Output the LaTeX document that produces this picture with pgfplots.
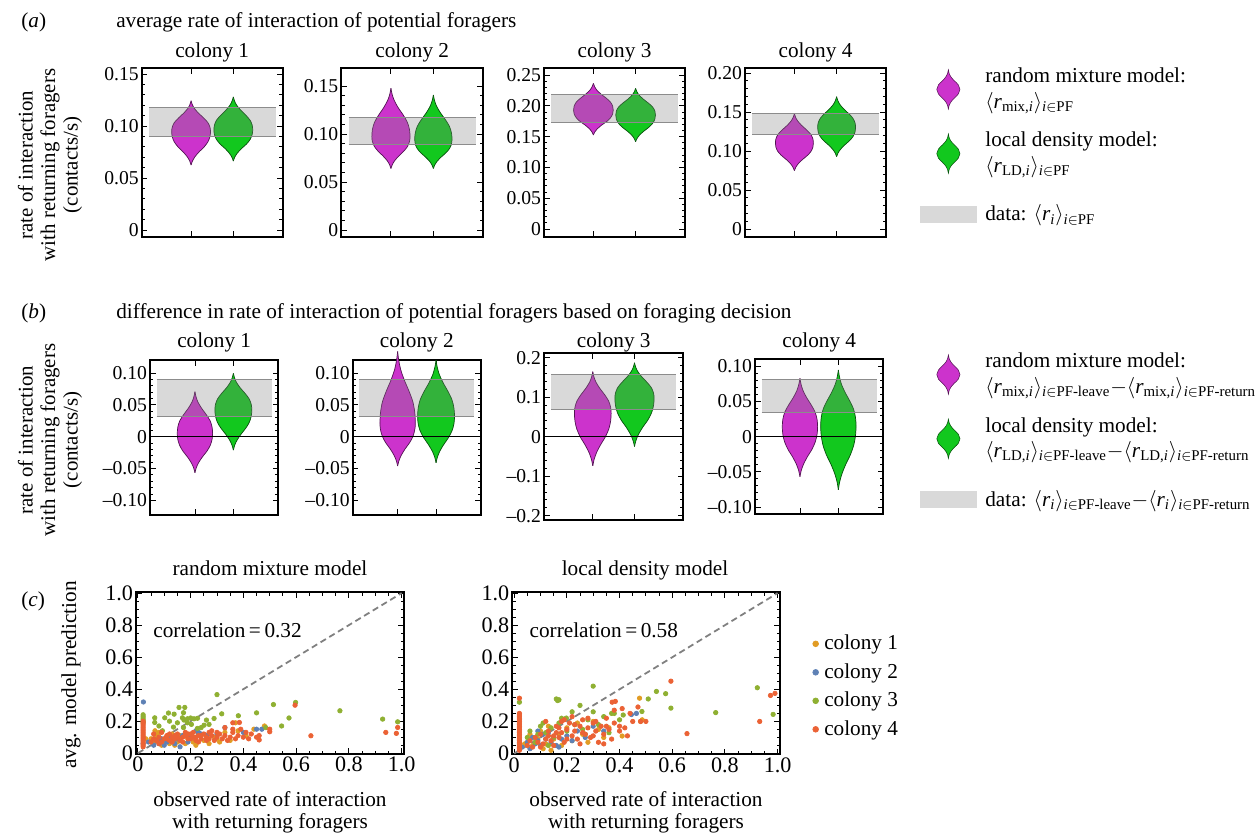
\documentclass[border=0pt]{standalone}
\usepackage{fontspec}
\setmainfont{Liberation Serif}
\usepackage{pgfplots}
\usepackage{pgfplotstable}
\pgfplotsset{compat=1.18}
\usepgfplotslibrary{fillbetween}

\definecolor{vm}{RGB}{204,51,204}
\definecolor{vg}{RGB}{18,200,30}
\definecolor{cA}{rgb}{0.880722,0.611041,0.142051}
\definecolor{cB}{rgb}{0.368417,0.506779,0.709798}
\definecolor{cC}{rgb}{0.560181,0.691569,0.194885}
\definecolor{cD}{rgb}{0.922526,0.385626,0.209179}

\def\px{0.56pt}
\newcommand{\fs}{\fontsize{11.9}{14.2}\selectfont}
\newcommand{\ft}{\fontsize{11}{13}\selectfont}
\newcommand{\fc}{\fontsize{12.4}{14}\selectfont}
\newcommand{\fl}{\fontsize{11.7}{12.6}\selectfont}

% violin data: y = value, w = half width of the violin (x units)
\pgfplotstableread{
y w
0.0625 0
0.0663 0.032
0.0705 0.092
0.0753 0.193
0.0801 0.313
0.0849 0.400
0.0897 0.446
0.0945 0.460
0.0990 0.446
0.1034 0.396
0.1079 0.294
0.1124 0.175
0.1169 0.078
0.1207 0.028
0.1243 0
}\aIM
\pgfplotstableread{
y w
0.0663 0
0.0699 0.032
0.0738 0.092
0.0783 0.193
0.0827 0.313
0.0872 0.400
0.0917 0.446
0.0962 0.460
0.1010 0.446
0.1057 0.396
0.1105 0.294
0.1153 0.175
0.1201 0.078
0.1242 0.028
0.1280 0
}\aIG
\pgfplotstableread{
y w
0.0640 0
0.0680 0.032
0.0723 0.090
0.0772 0.189
0.0822 0.306
0.0871 0.392
0.0921 0.437
0.0970 0.450
0.1046 0.437
0.1122 0.387
0.1198 0.288
0.1274 0.171
0.1350 0.077
0.1415 0.027
0.1476 0
}\aIIM
\pgfplotstableread{
y w
0.0640 0
0.0676 0.031
0.0715 0.088
0.0760 0.185
0.0805 0.299
0.0850 0.383
0.0895 0.427
0.0940 0.440
0.1010 0.427
0.1080 0.378
0.1150 0.282
0.1220 0.167
0.1290 0.075
0.1350 0.026
0.1406 0
}\aIIG
\pgfplotstableread{
y w
0.1526 0
0.1575 0.033
0.1627 0.094
0.1688 0.197
0.1748 0.320
0.1809 0.409
0.1869 0.456
0.1930 0.470
0.1995 0.456
0.2061 0.404
0.2126 0.301
0.2191 0.179
0.2256 0.080
0.2313 0.028
0.2365 0
}\aIIIM
\pgfplotstableread{
y w
0.1417 0
0.1469 0.033
0.1525 0.094
0.1590 0.197
0.1655 0.320
0.1720 0.409
0.1785 0.456
0.1850 0.470
0.1915 0.456
0.1980 0.404
0.2045 0.301
0.2110 0.179
0.2176 0.080
0.2232 0.028
0.2284 0
}\aIIIG
\pgfplotstableread{
y w
0.0748 0
0.0790 0.032
0.0836 0.090
0.0889 0.189
0.0942 0.306
0.0994 0.392
0.1047 0.437
0.1100 0.450
0.1157 0.437
0.1214 0.387
0.1271 0.288
0.1328 0.171
0.1385 0.077
0.1434 0.027
0.1480 0
}\aIVM
\pgfplotstableread{
y w
0.0927 0
0.0972 0.032
0.1020 0.090
0.1076 0.189
0.1132 0.306
0.1188 0.392
0.1244 0.437
0.1300 0.450
0.1359 0.437
0.1419 0.387
0.1478 0.288
0.1538 0.171
0.1597 0.077
0.1649 0.027
0.1696 0
}\aIVG
\pgfplotstableread{
y w
-0.0566 0
-0.0492 0.032
-0.0411 0.092
-0.0318 0.193
-0.0226 0.313
-0.0133 0.400
-0.0040 0.446
0.0053 0.460
0.0151 0.446
0.0250 0.396
0.0348 0.294
0.0446 0.175
0.0544 0.078
0.0629 0.028
0.0708 0
}\bIM
\pgfplotstableread{
y w
-0.0210 0
-0.0134 0.034
-0.0053 0.096
0.0042 0.202
0.0137 0.326
0.0231 0.418
0.0326 0.466
0.0420 0.480
0.0507 0.466
0.0593 0.413
0.0680 0.307
0.0766 0.182
0.0853 0.082
0.0928 0.029
0.0997 0
}\bIG
\pgfplotstableread{
y w
-0.0460 0
-0.0380 0.032
-0.0293 0.092
-0.0192 0.193
-0.0092 0.313
0.0009 0.400
0.0110 0.446
0.0210 0.460
0.0380 0.446
0.0549 0.396
0.0719 0.294
0.0888 0.175
0.1058 0.078
0.1204 0.028
0.1340 0
}\bIIM
\pgfplotstableread{
y w
-0.0410 0
-0.0323 0.034
-0.0229 0.096
-0.0120 0.202
-0.0011 0.326
0.0098 0.418
0.0206 0.466
0.0315 0.480
0.0449 0.466
0.0582 0.413
0.0716 0.307
0.0850 0.182
0.0983 0.082
0.1099 0.029
0.1206 0
}\bIIG
\pgfplotstableread{
y w
-0.0740 0
-0.0580 0.031
-0.0408 0.088
-0.0208 0.185
-0.0009 0.299
0.0191 0.383
0.0391 0.427
0.0590 0.440
0.0748 0.427
0.0907 0.378
0.1065 0.282
0.1224 0.167
0.1382 0.075
0.1519 0.026
0.1646 0
}\bIIIM
\pgfplotstableread{
y w
-0.0250 0
-0.0104 0.033
0.0055 0.094
0.0238 0.197
0.0421 0.320
0.0604 0.409
0.0787 0.456
0.0970 0.470
0.1105 0.456
0.1240 0.404
0.1375 0.301
0.1510 0.179
0.1645 0.080
0.1762 0.028
0.1870 0
}\bIIIG
\pgfplotstableread{
y w
-0.0570 0
-0.0485 0.032
-0.0393 0.092
-0.0286 0.193
-0.0180 0.313
-0.0073 0.400
0.0034 0.446
0.0140 0.460
0.0244 0.446
0.0347 0.396
0.0451 0.294
0.0554 0.175
0.0658 0.078
0.0747 0.028
0.0830 0
}\bIVM
\pgfplotstableread{
y w
-0.0757 0
-0.0648 0.032
-0.0530 0.092
-0.0393 0.193
-0.0257 0.313
-0.0121 0.400
0.0016 0.446
0.0152 0.460
0.0271 0.446
0.0391 0.396
0.0510 0.294
0.0630 0.175
0.0749 0.078
0.0853 0.028
0.0948 0
}\bIVG

\newcommand{\violin}[4]{%
 \addplot[smooth, draw=#3!40!black, line width=0.4pt, name path=#4R, forget plot] table[x expr=#2+\thisrow{w}, y=y]{#1};
 \addplot[smooth, draw=#3!40!black, line width=0.4pt, name path=#4L, forget plot] table[x expr=#2-\thisrow{w}, y=y]{#1};
 \addplot[fill=#3, draw=none, forget plot] fill between[of=#4R and #4L];
}
\newcommand{\band}[2]{%
 \addplot[draw=none, fill=black!50, fill opacity=0.3, forget plot] coordinates {(0,#1) (3,#1) (3,#2) (0,#2)};
 \addplot[black!45, line width=0.55pt, forget plot] coordinates {(0,#1) (3,#1)};
 \addplot[black!45, line width=0.55pt, forget plot] coordinates {(0,#2) (3,#2)};
}
\newcommand{\zeroline}{\addplot[black, line width=0.5pt, forget plot] coordinates {(-0.17,0) (3.17,0)};}

\pgfplotsset{
 vio/.style={scale only axis, anchor=north west, clip=false,
  xmin=-0.17, xmax=3.17, xtick={1,2}, xticklabels={},
  axis line style={line width=1pt},
  tick style={black, line width=0.5pt},
  major tick length=3.2pt, minor tick length=1.8pt,
  tick align=inside, minor y tick num=4,
  yticklabel style={font=\ft, inner sep=1.5pt}},
 sca/.style={scale only axis, anchor=north west,
  xmin=-0.007, xmax=1.009, ymin=-0.005, ymax=1.005,
  xtick={0,0.2,0.4,0.6,0.8,1}, xticklabels={0,0.2,0.4,0.6,0.8,1.0},
  ytick={0,0.2,0.4,0.6,0.8,1}, yticklabels={0,0.2,0.4,0.6,0.8,1.0},
  minor tick num=3,
  axis line style={line width=1pt},
  tick style={black, line width=0.5pt},
  major tick length=3.2pt, minor tick length=1.8pt,
  tick align=inside,
  ticklabel style={font=\fc, inner sep=1.5pt}},
 dots/.style={only marks, mark=*, mark size=1.25pt, color=#1},
 vioimg/.style={legend image code/.code={\path[draw=none, fill=none] (0pt,-11pt) rectangle (31pt,11pt);
 \filldraw[fill=#1, draw=#1!40!black, line width=0.3pt] (15.5pt,11pt) .. controls (16pt,5pt) and (22pt,4pt) .. (22pt,0pt) .. controls (22pt,-4pt) and (16pt,-5pt) .. (15.5pt,-11pt) .. controls (15pt,-5pt) and (9pt,-4pt) .. (9pt,0pt) .. controls (9pt,4pt) and (15pt,5pt) .. cycle;}},
 bandimg/.style={legend image code/.code={\path[draw=none, fill=none] (0pt,-12pt) rectangle (31pt,12pt); \fill[black!15] (0pt,-4.5pt) rectangle (31pt,4.5pt);}},
}

\begin{document}
\begin{tikzpicture}

% ---------- texts ----------
\node[anchor=base west, font=\fs] at (15*\px,-27.3*\px) {(\textit{a})};
\node[anchor=base west, font=\fs] at (110*\px,-27.3*\px) {average rate of interaction of potential foragers};
\node[anchor=base west, font=\fs] at (15*\px,-318.3*\px) {(\textit{b})};
\node[anchor=base west, font=\fs] at (110*\px,-318.3*\px) {difference in rate of interaction of potential foragers based on foraging decision};
\node[anchor=base west, font=\fs] at (15*\px,-606*\px) {(\textit{c})};

\foreach \cx/\nm in {212.2/1, 412.2/2, 614.5/3, 815.5/4}{\node[anchor=base, font=\fs] at (\cx*\px,-57*\px) {colony \nm};}
\foreach \cx/\nm in {214.2/1, 416.8/2, 613.7/3, 819.2/4}{\node[anchor=base, font=\fs] at (\cx*\px,-347*\px) {colony \nm};}

\node[rotate=90, align=center, font=\fl] at (50*\px,-165*\px) {rate of interaction\\with returning foragers\\(contacts/s)};
\node[rotate=90, align=center, font=\fl] at (50*\px,-440*\px) {rate of interaction\\with returning foragers\\(contacts/s)};

\node[anchor=base, font=\fs] at (270*\px,-575*\px) {random mixture model};
\node[anchor=base, font=\fs] at (645*\px,-575*\px) {local density model};
\node[anchor=base, font=\fs] at (270*\px,-806.7*\px) {observed rate of interaction};
\node[anchor=base, font=\fs] at (270*\px,-828.3*\px) {with returning foragers};
\node[anchor=base, font=\fs] at (646*\px,-806.7*\px) {observed rate of interaction};
\node[anchor=base, font=\fs] at (646*\px,-828.3*\px) {with returning foragers};
\node[rotate=90, anchor=base, font=\fs] at (76*\px,-675*\px) {avg. model prediction};

% ---------- row (a) ----------
\begin{axis}[vio, at={(141.7*\px,-68.3*\px)}, width=78.96pt, height=94.3pt,
  ymin=-0.0064, ymax=0.1555, ytick={0,0.05,0.10,0.15}, yticklabels={0,0.05,0.10,0.15}]
\violin{\aIM}{1}{vm}{aim}
\violin{\aIG}{2}{vg}{aig}
\band{0.0901}{0.118}
\end{axis}

\begin{axis}[vio, at={(341.3*\px,-68.3*\px)}, width=79.35pt, height=94.3pt,
  ymin=-0.007, ymax=0.1684, ytick={0,0.05,0.10,0.15}, yticklabels={0,0.05,0.10,0.15}]
\violin{\aIIM}{1}{vm}{aiim}
\violin{\aIIG}{2}{vg}{aiig}
\band{0.0893}{0.117}
\end{axis}

\begin{axis}[vio, at={(544*\px,-68.3*\px)}, width=78.96pt, height=94.3pt,
  ymin=-0.0125, ymax=0.2609, ytick={0,0.05,0.10,0.15,0.20,0.25}, yticklabels={0,0.05,0.10,0.15,0.20,0.25}]
\violin{\aIIIM}{1}{vm}{aiiim}
\violin{\aIIIG}{2}{vg}{aiiig}
\band{0.173}{0.2187}
\end{axis}

\begin{axis}[vio, at={(745*\px,-68.3*\px)}, width=78.96pt, height=94.3pt,
  ymin=-0.0099, ymax=0.206, ytick={0,0.05,0.10,0.15,0.20}, yticklabels={0,0.05,0.10,0.15,0.20},
  legend style={at={(axis description cs:1.241,1.025)}, anchor=north west, draw=none, fill=none,
   inner sep=0pt, font=\fs, row sep=8pt, column sep=3pt, cells={anchor=west, align=left}}]
\violin{\aIVM}{1}{vm}{aivm}
\violin{\aIVG}{2}{vg}{aivg}
\band{0.121}{0.148}
\addlegendimage{vioimg=vm}
\addlegendentry{random mixture model:\\$\langle$\textit{r}\textsubscript{mix,\textit{i}}$\rangle$\textsubscript{\textit{i}$\in$PF}}
\addlegendimage{vioimg=vg}
\addlegendentry{local density model:\\$\langle$\textit{r}\textsubscript{LD,\textit{i}}$\rangle$\textsubscript{\textit{i}$\in$PF}}
\addlegendimage{bandimg}
\addlegendentry{data: $\langle$\textit{r\textsubscript{i}}$\rangle$\textsubscript{\textit{i}$\in$PF}}
\end{axis}

% ---------- row (b) ----------
\begin{axis}[vio, at={(150*\px,-360*\px)}, width=71.85pt, height=86.8pt,
  ymin=-0.123, ymax=0.1206, ytick={-0.10,-0.05,0,0.05,0.10}, yticklabels={–0.10,–0.05,0,0.05,0.10}]
\violin{\bIM}{1}{vm}{bim}
\violin{\bIG}{2}{vg}{big}
\band{0.0325}{0.090}
\zeroline
\end{axis}

\begin{axis}[vio, at={(352.7*\px,-360*\px)}, width=71.85pt, height=86.8pt,
  ymin=-0.123, ymax=0.1206, ytick={-0.10,-0.05,0,0.05,0.10}, yticklabels={–0.10,–0.05,0,0.05,0.10}]
\violin{\bIIM}{1}{vm}{biim}
\violin{\bIIG}{2}{vg}{biig}
\band{0.0325}{0.090}
\zeroline
\end{axis}

\begin{axis}[vio, at={(544*\px,-353.3*\px)}, width=78.0pt, height=93.35pt,
  ymin=-0.211, ymax=0.211, ytick={-0.2,-0.1,0,0.1,0.2}, yticklabels={–0.2,–0.1,0,0.1,0.2}]
\violin{\bIIIM}{1}{vm}{biiim}
\violin{\bIIIG}{2}{vg}{biiig}
\band{0.070}{0.158}
\zeroline
\end{axis}

\begin{axis}[vio, at={(755*\px,-359.3*\px)}, width=71.85pt, height=86.63pt,
  ymin=-0.11, ymax=0.11, ytick={-0.10,-0.05,0,0.05,0.10}, yticklabels={–0.10,–0.05,0,0.05,0.10},
  legend style={at={(axis description cs:1.286,1.065)}, anchor=north west, draw=none, fill=none,
   inner sep=0pt, font=\fs, row sep=8pt, column sep=3pt, cells={anchor=west, align=left}}]
\violin{\bIVM}{1}{vm}{bivm}
\violin{\bIVG}{2}{vg}{bivg}
\band{0.0347}{0.0815}
\zeroline
\addlegendimage{vioimg=vm}
\addlegendentry{random mixture model:\\$\langle$\textit{r}\textsubscript{mix,\textit{i}}$\rangle$\textsubscript{\textit{i}$\in$PF-leave}$-$$\langle$\textit{r}\textsubscript{mix,\textit{i}}$\rangle$\textsubscript{\textit{i}$\in$PF-return}}
\addlegendimage{vioimg=vg}
\addlegendentry{local density model:\\$\langle$\textit{r}\textsubscript{LD,\textit{i}}$\rangle$\textsubscript{\textit{i}$\in$PF-leave}$-$$\langle$\textit{r}\textsubscript{LD,\textit{i}}$\rangle$\textsubscript{\textit{i}$\in$PF-return}}
\addlegendimage{bandimg}
\addlegendentry{data: $\langle$\textit{r\textsubscript{i}}$\rangle$\textsubscript{\textit{i}$\in$PF-leave}$-$$\langle$\textit{r\textsubscript{i}}$\rangle$\textsubscript{\textit{i}$\in$PF-return}}
\end{axis}

% ---------- row (c) ----------
\begin{axis}[sca, at={(136*\px,-592.3*\px)}, width=150.08pt, height=90.55pt]
\addplot[dots=cA] coordinates {(0.03,0.09)(0.05,0.09)(0.06,0.06)(0.07,0.11)(0.08,0.13)(0.09,0.05)(0.10,0.08)(0.12,0.06)(0.13,0.12)(0.15,0.07)(0.16,0.11)(0.18,0.06)(0.19,0.09)(0.21,0.07)(0.23,0.12)(0.25,0.08)(0.27,0.06)(0.29,0.10)(0.31,0.07)(0.33,0.13)(0.35,0.08)(0.37,0.19)(0.38,0.14)(0.41,0.11)(0.44,0.15)(0.48,0.17)(0.065,0.14)(0.14,0.05)(0.22,0.05)(0.30,0.09)};
\addplot[dots=cB] coordinates {(0.021,0.32)(0.02,0.06)(0.04,0.07)(0.06,0.05)(0.07,0.08)(0.08,0.06)(0.09,0.09)(0.10,0.05)(0.11,0.07)(0.12,0.10)(0.13,0.08)(0.14,0.06)(0.15,0.09)(0.17,0.11)(0.19,0.07)(0.20,0.10)(0.22,0.14)(0.23,0.13)(0.24,0.12)(0.26,0.11)(0.30,0.12)(0.33,0.16)(0.40,0.13)(0.45,0.15)(0.47,0.15)(0.16,0.04)};
\addplot[dots=cC] coordinates {(0.02,0.19)(0.02,0.20)(0.02,0.21)(0.02,0.22)(0.02,0.23)(0.02,0.24)(0.064,0.221)(0.064,0.192)(0.08,0.17)(0.093,0.14)(0.102,0.221)(0.116,0.251)(0.12,0.20)(0.135,0.163)(0.1375,0.244)(0.15,0.19)(0.156,0.286)(0.169,0.221)(0.173,0.253)(0.173,0.16)(0.175,0.207)(0.178,0.286)(0.188,0.215)(0.188,0.19)(0.20,0.22)(0.203,0.18)(0.213,0.215)(0.226,0.218)(0.226,0.155)(0.24,0.16)(0.251,0.175)(0.26,0.207)(0.27,0.18)(0.289,0.217)(0.30,0.366)(0.318,0.246)(0.381,0.234)(0.45,0.252)(0.485,0.16)(0.514,0.304)(0.545,0.17)(0.573,0.22)(0.598,0.317)(0.766,0.265)(0.928,0.213)(0.985,0.196)};
\addplot[dots=cD] coordinates {(0.02,0.04)(0.02,0.05)(0.02,0.06)(0.02,0.07)(0.02,0.08)(0.02,0.09)(0.02,0.10)(0.02,0.11)(0.02,0.12)(0.02,0.13)(0.02,0.14)(0.02,0.15)(0.02,0.16)(0.02,0.17)(0.02,0.18)(0.02,0.19)(0.02,0.20)
(0.05,0.07)(0.06,0.09)(0.07,0.08)(0.08,0.10)(0.09,0.07)(0.10,0.09)(0.11,0.11)(0.12,0.08)(0.13,0.10)(0.14,0.09)(0.15,0.12)(0.16,0.08)(0.17,0.10)(0.18,0.11)(0.19,0.09)(0.20,0.12)(0.21,0.10)(0.22,0.08)(0.23,0.11)(0.24,0.09)(0.25,0.12)(0.26,0.10)(0.27,0.09)(0.28,0.11)(0.29,0.08)(0.30,0.10)(0.31,0.12)(0.32,0.09)(0.33,0.11)(0.34,0.08)(0.35,0.10)(0.36,0.13)(0.37,0.09)(0.38,0.11)(0.40,0.10)(0.41,0.13)(0.42,0.09)(0.43,0.12)(0.45,0.10)(0.46,0.11)(0.06,0.12)(0.09,0.13)(0.12,0.12)(0.15,0.10)(0.18,0.13)(0.21,0.13)(0.24,0.11)(0.27,0.13)(0.30,0.13)(0.13,0.07)(0.17,0.07)(0.20,0.09)(0.23,0.07)(0.26,0.08)(0.11,0.09)(0.08,0.06)(0.14,0.11)(0.19,0.12)(0.22,0.10)
(0.36,0.19)(0.39,0.15)(0.36,0.15)(0.46,0.083)(0.50,0.134)(0.50,0.15)(0.596,0.30)(0.656,0.109)(0.94,0.13)(0.98,0.124)(0.985,0.161)(0.385,0.192)(0.33,0.16)(0.28,0.14)};
\addplot[gray, line width=1pt, dash pattern=on 3.5pt off 2.2pt] coordinates {(0,0) (1,1)};
\node[anchor=west, font=\fs] at (axis cs:0.035,0.77) {correlation\,=\,0.32};
\end{axis}

\begin{axis}[sca, at={(512.3*\px,-592.3*\px)}, width=149.9pt, height=90.72pt,
  legend style={at={(axis description cs:1.12,0.76)}, anchor=north west, draw=none, fill=none,
   inner sep=0pt, font=\fs, row sep=2.2pt, column sep=1pt, cells={anchor=west}},
  legend image code/.code={\fill[#1] (0pt,0pt) circle (1.6pt);}]
\addplot[dots=cA] coordinates {(0.04,0.06)(0.06,0.12)(0.07,0.05)(0.09,0.09)(0.10,0.14)(0.12,0.06)(0.13,0.17)(0.15,0.09)(0.17,0.12)(0.18,0.05)(0.20,0.16)(0.22,0.08)(0.24,0.19)(0.26,0.12)(0.28,0.07)(0.30,0.20)(0.32,0.15)(0.34,0.10)(0.41,0.109)(0.476,0.345)(0.486,0.21)(0.48,0.20)(0.11,0.03)(0.14,0.02)(0.36,0.16)};
\addlegendentry{colony 1}
\addplot[dots=cB] coordinates {(0.03,0.04)(0.05,0.07)(0.06,0.03)(0.07,0.10)(0.08,0.06)(0.09,0.08)(0.10,0.05)(0.11,0.12)(0.12,0.09)(0.13,0.13)(0.14,0.07)(0.15,0.10)(0.16,0.05)(0.18,0.09)(0.20,0.11)(0.22,0.08)(0.24,0.14)(0.27,0.10)(0.30,0.17)(0.34,0.14)(0.445,0.243)(0.464,0.25)(0.17,0.04)(0.09,0.14)};
\addlegendentry{colony 2}
\addplot[dots=cC] coordinates {(0.02,0.32)(0.05,0.10)(0.06,0.14)(0.08,0.07)(0.09,0.12)(0.10,0.17)(0.11,0.19)(0.12,0.13)(0.14,0.16)(0.15,0.10)(0.16,0.34)(0.165,0.33)(0.17,0.335)(0.17,0.19)(0.18,0.22)(0.198,0.221)(0.20,0.14)(0.22,0.26)(0.23,0.18)(0.25,0.30)(0.26,0.15)(0.28,0.21)(0.30,0.42)(0.30,0.26)(0.32,0.18)(0.34,0.23)(0.37,0.25)(0.38,0.25)(0.40,0.21)(0.414,0.24)(0.485,0.262)(0.509,0.34)(0.54,0.387)(0.575,0.373)(0.595,0.283)(0.765,0.255)(0.923,0.41)(0.983,0.244)(0.36,0.13)(0.13,0.05)(0.27,0.12)};
\addlegendentry{colony 3}
\addplot[dots=cD] coordinates {(0.02,0.02)(0.02,0.03)(0.02,0.04)(0.02,0.05)(0.02,0.06)(0.02,0.07)(0.02,0.08)(0.02,0.09)(0.02,0.10)(0.02,0.11)(0.02,0.12)(0.02,0.13)(0.02,0.14)(0.02,0.15)(0.02,0.16)(0.02,0.17)(0.02,0.18)(0.02,0.19)(0.02,0.20)(0.02,0.21)(0.02,0.22)(0.02,0.23)(0.02,0.24)(0.02,0.25)(0.02,0.345)
(0.05,0.05)(0.06,0.08)(0.07,0.04)(0.08,0.10)(0.09,0.07)(0.10,0.12)(0.11,0.06)(0.12,0.09)(0.13,0.14)(0.14,0.08)(0.15,0.11)(0.16,0.17)(0.17,0.10)(0.18,0.13)(0.19,0.07)(0.20,0.15)(0.21,0.19)(0.22,0.11)(0.23,0.14)(0.24,0.09)(0.25,0.17)(0.26,0.21)(0.27,0.12)(0.28,0.16)(0.29,0.10)(0.30,0.19)(0.31,0.14)(0.32,0.07)(0.33,0.17)(0.34,0.12)(0.35,0.22)(0.36,0.15)(0.37,0.09)(0.38,0.27)(0.38,0.19)(0.40,0.14)(0.41,0.28)(0.42,0.16)(0.43,0.11)(0.45,0.20)(0.47,0.29)(0.48,0.20)(0.50,0.20)(0.384,0.325)(0.372,0.32)(0.595,0.451)(0.656,0.124)(0.932,0.2)(0.973,0.362)(0.99,0.375)(0.12,0.20)(0.15,0.05)(0.18,0.20)(0.22,0.23)(0.25,0.06)(0.28,0.22)(0.31,0.20)(0.34,0.06)(0.10,0.04)(0.13,0.11)(0.17,0.16)(0.20,0.09)(0.23,0.18)(0.26,0.13)(0.30,0.11)(0.16,0.13)(0.40,0.17)(0.44,0.25)(0.35,0.17)(0.19,0.21)};
\addlegendentry{colony 4}
\addplot[gray, line width=1pt, dash pattern=on 3.5pt off 2.2pt, forget plot] coordinates {(0,0) (1,1)};
\node[anchor=west, font=\fs] at (axis cs:0.035,0.77) {correlation\,=\,0.58};
\end{axis}

\pgfresetboundingbox
\path[use as bounding box] (0,0) rectangle (703.36pt,-469.28pt);
\end{tikzpicture}
\end{document}
